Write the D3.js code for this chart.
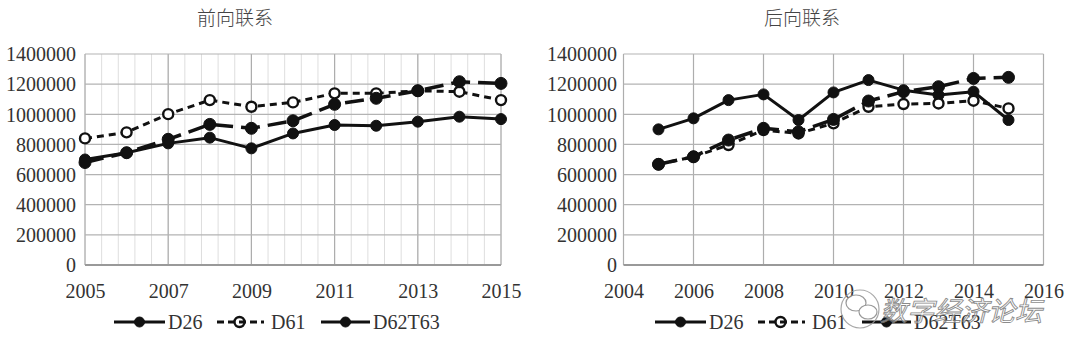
<!DOCTYPE html>
<html>
<head>
<meta charset="utf-8">
<script src="https://cdn.jsdelivr.net/npm/d3@7/dist/d3.min.js"></script>
<style>
  html, body { margin: 0; padding: 0; background: #fff; }
  svg { display: block; }
</style>
</head>
<body>
<svg id="chart" width="1080" height="357"></svg>
<script>
// ---- data ----
const years = [2005, 2006, 2007, 2008, 2009, 2010, 2011, 2012, 2013, 2014, 2015];
const seriesNames = ["D26", "D61", "D62T63"];

const forwardTitle = "前向联系";
const forwardD26    = [700000, 745000, 807000, 845000, 774000, 873000, 929000, 924000, 951000, 984000, 968000];
const forwardD61    = [840000, 880000, 1001000, 1094000, 1050000, 1079000, 1139000, 1139000, 1156000, 1150000, 1094000];
const forwardD62T63 = [680000, 745000, 834000, 933000, 907000, 957000, 1066000, 1106000, 1156000, 1216000, 1205000];

const backwardTitle = "后向联系";
const backwardD26    = [900000, 973000, 1094000, 1132000, 962000, 1145000, 1227000, 1160000, 1128000, 1150000, 962000];
const backwardD61    = [668000, 718000, 796000, 895000, 873000, 940000, 1050000, 1068000, 1072000, 1090000, 1039000];
const backwardD62T63 = [668000, 718000, 829000, 907000, 884000, 966000, 1088000, 1150000, 1183000, 1238000, 1245000];

const yTicks = [0, 200000, 400000, 600000, 800000, 1000000, 1200000, 1400000];
const forwardXTicks  = [2005, 2007, 2009, 2011, 2013, 2015];
const forwardXMinor  = d3.range(2005, 2015.0001, 0.4);
const backwardXTicks = [2004, 2006, 2008, 2010, 2012, 2014, 2016];

// ---- styles ----
const styles = {
  D26:    { dash: null,   width: 3,   marker: "filled", r: 5.5 },
  D61:    { dash: "7,5",  width: 3,   marker: "open",   r: 5 },
  D62T63: { dash: "19,8", width: 3.5, marker: "filled", r: 6 }
};
const numFont = '"Liberation Serif"';
const cjkFont = '"Noto Sans CJK SC"';

const svg = d3.select("#chart");

function drawPanel(cfg) {
  const g = svg.append("g");
  const x = d3.scaleLinear().domain(cfg.xDomain).range([cfg.left, cfg.right]);
  const y = d3.scaleLinear().domain([0, 1400000]).range([265, 54]);

  // title
  g.append("text").attr("x", cfg.titleX).attr("y", 25)
    .attr("text-anchor", "middle").style("font-family", cjkFont)
    .style("font-size", "19px").style("font-weight", 300).attr("fill", "#444").text(cfg.title);

  // minor vertical grid
  if (cfg.minor) {
    g.append("g").selectAll("line").data(cfg.minor).join("line")
      .attr("x1", d => x(d)).attr("x2", d => x(d))
      .attr("y1", y(1400000)).attr("y2", y(0))
      .attr("stroke", "#dedede").attr("stroke-width", 1);
  }
  // major vertical grid
  g.append("g").selectAll("line").data(cfg.xTicks).join("line")
    .attr("x1", d => x(d)).attr("x2", d => x(d))
    .attr("y1", y(1400000)).attr("y2", y(0))
    .attr("stroke", "#adadad").attr("stroke-width", 1.2);
  // horizontal grid
  g.append("g").selectAll("line").data(yTicks).join("line")
    .attr("x1", cfg.left).attr("x2", cfg.right)
    .attr("y1", d => y(d)).attr("y2", d => y(d))
    .attr("stroke", d => d === 0 ? "#999" : "#b3b3b3")
    .attr("stroke-width", d => d === 0 ? 1.8 : 1.2);

  // y axis labels
  const yAxis = d3.axisLeft(y).tickValues(yTicks).tickSize(0).tickPadding(0)
    .tickFormat(d3.format("d"));
  const ya = g.append("g").attr("transform", `translate(${cfg.yLabelX},0)`).call(yAxis);
  ya.select(".domain").remove();
  ya.selectAll("text").style("font-family", numFont).style("font-size", "20px")
    .attr("fill", "#333").attr("dy", "0.34em");

  // x axis labels
  const xAxis = d3.axisBottom(x).tickValues(cfg.xTicks).tickSize(0).tickPadding(0)
    .tickFormat(d3.format("d"));
  const xa = g.append("g").attr("transform", `translate(0,284)`).call(xAxis);
  xa.select(".domain").remove();
  xa.selectAll("text").style("font-family", numFont).style("font-size", "20px")
    .attr("fill", "#333").attr("dy", "0.71em");

  // series lines
  const line = d3.line().x((d, i) => x(years[i])).y(d => y(d));
  cfg.series.forEach((vals, si) => {
    const st = styles[seriesNames[si]];
    g.append("path").datum(vals).attr("d", line)
      .attr("fill", "none").attr("stroke", "#111")
      .attr("stroke-width", st.width)
      .attr("stroke-dasharray", st.dash)
      .attr("stroke-linejoin", "round");
    g.append("g").selectAll("circle").data(vals).join("circle")
      .attr("cx", (d, i) => x(years[i])).attr("cy", d => y(d))
      .attr("r", st.r)
      .attr("fill", st.marker === "open" ? "#fff" : "#111")
      .attr("stroke", "#111")
      .attr("stroke-width", st.marker === "open" ? 2.4 : 1);
  });

  // legend
  const legendItems = [
    { name: "D26",    x0: 114, x1: 165, mx: 139.5, tx: 168 },
    { name: "D61",    x0: 217, x1: 264, mx: 239.5, tx: 271 },
    { name: "D62T63", x0: 321, x1: 370, mx: 345.5, tx: 373 }
  ];
  const lg = g.append("g").attr("transform", `translate(${cfg.legendOffset},322)`);
  legendItems.forEach(it => {
    const st = styles[it.name];
    lg.append("line").attr("x1", it.x0).attr("x2", it.x1).attr("y1", 0).attr("y2", 0)
      .attr("stroke", "#111").attr("stroke-width", 3)
      .attr("stroke-dasharray", it.name === "D61" ? "7,4" : null);
    lg.append("circle").attr("cx", it.mx).attr("cy", 0).attr("r", 5)
      .attr("fill", st.marker === "open" ? "none" : "#111")
      .attr("stroke", "#111").attr("stroke-width", st.marker === "open" ? 2.4 : 1);
    lg.append("text").attr("x", it.tx).attr("y", 7)
      .style("font-family", numFont).style("font-size", "20px")
      .attr("fill", "#333").text(it.name);
  });
}

drawPanel({
  title: forwardTitle, titleX: 235,
  xDomain: [2005, 2015], left: 85, right: 501,
  xTicks: forwardXTicks, minor: forwardXMinor,
  yLabelX: 76, legendOffset: 0,
  series: [forwardD26, forwardD61, forwardD62T63]
});
drawPanel({
  title: backwardTitle, titleX: 802,
  xDomain: [2004, 2016], left: 623.5, right: 1043.5,
  xTicks: backwardXTicks, minor: null,
  yLabelX: 617, legendOffset: 541,
  series: [backwardD26, backwardD61, backwardD62T63]
});

// watermark
const wm = svg.append("g").attr("opacity", 0.85);
wm.append("circle").attr("cx", 860).attr("cy", 309).attr("r", 19)
  .attr("fill", "none").attr("stroke", "#9a9a9a").attr("stroke-width", 1.2);
wm.append("ellipse").attr("cx", 856).attr("cy", 303).attr("rx", 10).attr("ry", 8)
  .attr("fill", "#fff").attr("stroke", "#888").attr("stroke-width", 1.2);
wm.append("ellipse").attr("cx", 868).attr("cy", 312).attr("rx", 9).attr("ry", 7)
  .attr("fill", "#fff").attr("stroke", "#888").attr("stroke-width", 1.2);
wm.append("text").attr("x", 880).attr("y", 321)
  .style("font-family", cjkFont).style("font-size", "27px").style("font-style", "italic")
  .attr("fill", "rgba(255,255,255,0.6)").attr("stroke", "#777").attr("stroke-width", 0.9)
  .text("数字经济论坛");
</script>
</body>
</html>
